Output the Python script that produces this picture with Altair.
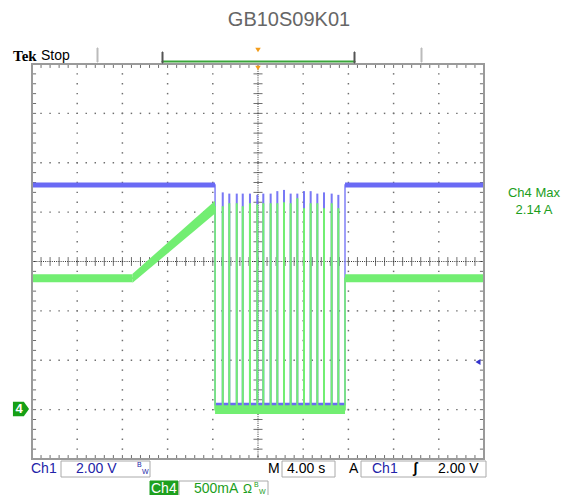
import altair as alt
import pandas as pd
import numpy as np

# ---------------- scope settings ----------------
T_PER_DIV = 4.0        # 4.00 s/div, 10 divisions
CH1_PER_DIV = 2.0      # Ch1 2.00 V/div
CH4_PER_DIV = 0.5      # Ch4 500 mA/div
GND_DIV = -3.0         # both ground markers 3 div below centre

# ---------------- Ch1 (blue, volts) ----------------
ch1_t = [0.0, 16.2, 16.2, 27.7, 27.7, 40.0]
ch1_v = [9.1, 9.1, 0.2, 0.2, 9.1, 9.1]

# ---------------- Ch4 (green, amps) ----------------
ch4_t = [0.0, 8.9, 16.2, 16.2, 27.7, 27.7, 40.0]
ch4_i = [1.33, 1.33, 2.05, 0.0, 0.0, 1.33, 1.33]

# pulses during the switching phase
pulse_t = [16.88, 17.46, 18.12, 18.65, 19.29, 19.94, 20.47, 21.12, 21.71,
           22.30, 22.89, 23.48, 24.07, 24.66, 25.25, 25.84, 26.52, 27.11]
pulse_ch4 = [2.06, 2.09, 2.09, 2.06, 2.09, 2.08, 2.09, 2.09, 2.09,
             2.10, 2.09, 2.14, 2.04, 2.09, 2.09, 2.04, 2.09, 2.04]
pulse_ch1 = [8.80, 8.75, 8.75, 8.75, 8.75, 8.70, 8.75, 8.75, 8.85,
             8.90, 8.75, 8.75, 8.85, 8.85, 8.75, 8.80, 8.75, 8.70]
PULSE_W = 0.18

BLUE = "#6a6af4"
GREEN = "#72ee72"
TXT_BLUE = "#2323a8"
TXT_GREEN = "#1c9e1c"
GRID = "#6f6f6f"
BORDER = "#9a9a9a"


def d1(v):
    return GND_DIV + np.asarray(v, dtype=float) / CH1_PER_DIV


def d4(i):
    return GND_DIV + np.asarray(i, dtype=float) / CH4_PER_DIV


XS = alt.Scale(domain=[0, 40], nice=False, zero=False)
YS = alt.Scale(domain=[-4, 4], nice=False, zero=False)


def X(f):
    return alt.X(f, type="quantitative", scale=XS, axis=None)


def Y(f):
    return alt.Y(f, type="quantitative", scale=YS, axis=None)


# ---------------- graticule ----------------
minor_t = np.round(np.arange(0, 40.0001, 0.8), 3)
minor_d = np.round(np.arange(-4, 4.0001, 0.2), 3)
dots = []
for yd in [-3, -2, -1, 1, 2, 3]:
    for t in minor_t:
        dots.append({"t": t, "d": yd})
for xd in [1, 2, 3, 4, 6, 7, 8, 9]:
    for d in minor_d:
        dots.append({"t": xd * T_PER_DIV, "d": d})
dots = pd.DataFrame(dots)

ticks = []
for t in minor_t:
    ticks.append({"t": t, "t2": t, "d": 4, "d2": 3.92})
    ticks.append({"t": t, "t2": t, "d": -4, "d2": -3.92})
    ticks.append({"t": t, "t2": t, "d": -0.09, "d2": 0.09})
for d in minor_d:
    ticks.append({"t": 0, "t2": 0.36, "d": d, "d2": d})
    ticks.append({"t": 40, "t2": 39.64, "d": d, "d2": d})
    ticks.append({"t": 19.6, "t2": 20.4, "d": d, "d2": d})
ticks = pd.DataFrame(ticks)

dot_layer = alt.Chart(dots).mark_square(size=2.2, color=GRID, opacity=1).encode(
    x=X("t"), y=Y("d"))
tick_layer = alt.Chart(ticks).mark_rule(color=GRID, strokeWidth=1).encode(
    x=X("t"), x2="t2", y=Y("d"), y2="d2")
centre = pd.DataFrame([
    {"t": 0, "t2": 40, "d": 0, "d2": 0},
    {"t": 20, "t2": 20, "d": -4, "d2": 4},
])
centre_layer = alt.Chart(centre).mark_rule(color="#333", strokeWidth=1,
                                           strokeDash=[1, 1.2]).encode(
    x=X("t"), x2="t2", y=Y("d"), y2="d2")
border_layer = alt.Chart(pd.DataFrame({"t": [0], "t2": [40], "d": [-4], "d2": [4]})).mark_rect(
    fill=None, fillOpacity=0, stroke=BORDER, strokeWidth=2).encode(
    x=X("t"), x2="t2", y=Y("d"), y2="d2")

# ---------------- traces ----------------
ch1_df = pd.DataFrame({"t": ch1_t, "d": d1(ch1_v)})
ch4_df = pd.DataFrame({"t": ch4_t, "d": d4(ch4_i)})

# noise envelopes (half band in native units)
bands = []
for seg, (a, b, v, h) in enumerate([(0, 16.2, 9.1, 0.1), (16.2, 27.7, 0.2, 0.08), (27.7, 40, 9.1, 0.1)]):
    bands.append({"seg": f"b{seg}", "t": a, "lo": float(d1(v - h)), "hi": float(d1(v + h))})
    bands.append({"seg": f"b{seg}", "t": b, "lo": float(d1(v - h)), "hi": float(d1(v + h))})
blue_bands = pd.DataFrame(bands)

gb = []
gsegs = [
    ("g0", [(0, 1.33, 0.04), (8.9, 1.33, 0.04)]),
    ("g1", [(8.9, 1.33, 0.045), (16.2, 2.05, 0.065)]),
    ("g2", [(16.2, 0.0, 0.045), (27.7, 0.0, 0.045)]),
    ("g3", [(27.7, 1.33, 0.04), (40, 1.33, 0.04)]),
]
for name, pts in gsegs:
    for t, i, h in pts:
        gb.append({"seg": name, "t": t, "lo": float(d4(i - h)), "hi": float(d4(i + h))})
green_bands = pd.DataFrame(gb)

pulses = pd.DataFrame({
    "t0": np.array(pulse_t) - PULSE_W / 2,
    "t1": np.array(pulse_t) + PULSE_W / 2,
    "g_lo": d4(0.0), "g_hi": d4(pulse_ch4),
    "b_lo": d1(0.2), "b_hi": d1(pulse_ch1),
})

blue_band_layer = alt.Chart(blue_bands).mark_area(color=BLUE, opacity=1).encode(
    x=X("t"), y=Y("lo"), y2="hi", detail="seg:N")
blue_line = alt.Chart(ch1_df).mark_line(color=BLUE, strokeWidth=1.6, opacity=0.8).encode(
    x=X("t"), y=Y("d"), order="index:Q").transform_window(index="row_number()")
blue_pulse = alt.Chart(pulses).mark_rect(color=BLUE, opacity=0.9).encode(
    x=X("t0"), x2="t1", y=Y("b_lo"), y2="b_hi")

green_band_layer = alt.Chart(green_bands).mark_area(color=GREEN, opacity=1).encode(
    x=X("t"), y=Y("lo"), y2="hi", detail="seg:N")
green_line = alt.Chart(ch4_df).mark_line(color=GREEN, strokeWidth=1.6).encode(
    x=X("t"), y=Y("d"), order="index:Q").transform_window(index="row_number()")
green_pulse = alt.Chart(pulses).mark_rect(color=GREEN).encode(
    x=X("t0"), x2="t1", y=Y("g_lo"), y2="g_hi")

# ---------------- annotations (pixel positions relative to plot area) ----------------
dummy = pd.DataFrame({"a": [0]})
FONT = "Liberation Sans"


def txt(s, x, y, size, color, weight="normal", align="left", font=FONT, baseline="middle"):
    return alt.Chart(dummy).mark_text(text=s, x=x, y=y, fontSize=size, color=color,
                                      fontWeight=weight, align=align, baseline=baseline, font=font)


def box(x, x2, y, y2, stroke="#aaaaaa", fill="white", sw=1):
    return alt.Chart(dummy).mark_rect(x=x, x2=x2, y=y, y2=y2, stroke=stroke, fill=fill, strokeWidth=sw)


OX, OY = 32, 64  # page position of plot origin

ann = [
    txt("GB10S09K01", 289 - OX, 20 - OY, 20, "#666666", align="center"),
    txt("Tek", 13 - OX, 56 - OY, 15, "#000000", weight="bold", font="Liberation Serif"),
    txt("Stop", 41 - OX, 56 - OY, 14, "#000000"),
    box(97 - OX, 98 - OX, 48 - OY, 62 - OY, stroke="#bbbbbb", fill="#bbbbbb"),
    box(421 - OX, 422 - OX, 48 - OY, 62 - OY, stroke="#bbbbbb", fill="#bbbbbb"),
    box(162 - OX, 355 - OX, 61 - OY, 62 - OY, stroke="#3aa63a", fill="#3aa63a"),
    box(162 - OX, 163 - OX, 52 - OY, 63 - OY, stroke="#555", fill="#555"),
    box(354 - OX, 355 - OX, 52 - OY, 63 - OY, stroke="#555", fill="#555"),
    alt.Chart(dummy).mark_point(shape="triangle-down", x=258 - OX, y=50 - OY, size=30,
                                filled=True, color="#f39c1a", opacity=1),
    alt.Chart(dummy).mark_point(shape="triangle-down", x=258 - OX, y=68 - OY, size=30,
                                filled=True, color="#f39c1a", opacity=1),
    txt("Ch4 Max", 534 - OX, 193 - OY, 13, TXT_GREEN, align="center"),
    txt("2.14 A", 534 - OX, 210 - OY, 13, TXT_GREEN, align="center"),
    alt.Chart(dummy).mark_point(shape="triangle-left", x=478 - OX, y=362 - OY, size=34,
                                filled=True, color="#3333cc", opacity=1),
    alt.Chart(dummy).mark_point(shape="M-1,-0.9L0.35,-0.9L1,0L0.35,0.9L-1,0.9Z",
                                x=21 - OX, y=409 - OY, size=260, filled=True,
                                color="#16a016", opacity=1),
    txt("4", 19 - OX, 409 - OY, 13, "white", weight="bold", align="center"),
    # bottom row 1
    txt("Ch1", 31 - OX, 469 - OY, 14, TXT_BLUE),
    box(61 - OX, 150 - OX, 461 - OY, 477 - OY),
    txt("2.00 V", 76 - OX, 469 - OY, 14, TXT_BLUE),
    txt("B", 137 - OX, 465 - OY, 7, TXT_BLUE),
    txt("W", 142 - OX, 472 - OY, 7, TXT_BLUE),
    txt("M", 268 - OX, 469 - OY, 14, "#000000"),
    box(282 - OX, 335 - OX, 461 - OY, 477 - OY),
    txt("4.00 s", 287 - OX, 469 - OY, 14, "#000000"),
    txt("A", 349 - OX, 469 - OY, 14, "#000000"),
    box(361 - OX, 486 - OX, 461 - OY, 477 - OY),
    txt("Ch1", 372 - OX, 469 - OY, 14, TXT_BLUE),
    txt("ʃ", 413 - OX, 469 - OY, 14, "#000000", weight="bold"),
    txt("2.00 V", 438 - OX, 469 - OY, 14, "#000000"),
    # bottom row 2
    box(150 - OX, 178 - OX, 481 - OY, 497 - OY, stroke="#1ea01e", fill="#1ea01e"),
    txt("Ch4", 151 - OX, 489 - OY, 14, "white"),
    box(179 - OX, 268 - OX, 481 - OY, 497 - OY),
    txt("500mA", 194 - OX, 489 - OY, 14, TXT_GREEN),
    txt("Ω", 243 - OX, 489 - OY, 12, TXT_GREEN),
    txt("B", 254 - OX, 485 - OY, 7, TXT_GREEN),
    txt("W", 259 - OX, 492 - OY, 7, TXT_GREEN),
]

chart = alt.layer(
    dot_layer, tick_layer, centre_layer,
    blue_band_layer, blue_line, blue_pulse,
    green_band_layer, green_line, green_pulse,
    border_layer,
    *ann,
).properties(
    width=452, height=395,
    autosize=alt.AutoSizeParams(type="none"),
    padding={"left": 24, "top": 56, "right": 87, "bottom": 36},
    background="white",
).configure_view(stroke=None)

chart.save("out.html", embed_options={"renderer": "svg", "actions": False})
